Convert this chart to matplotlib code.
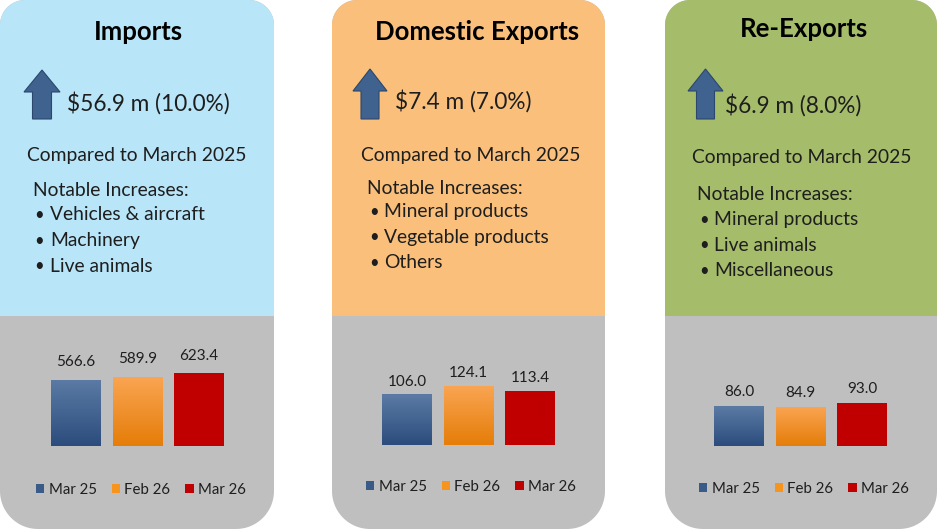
import numpy as np
import matplotlib
matplotlib.use("Agg")
import matplotlib.pyplot as plt
from matplotlib.patches import Polygon, Rectangle, Patch
from matplotlib.colors import LinearSegmentedColormap

plt.rcParams['font.family'] = ['Lato', 'DejaVu Sans']

# data
periods = ["Mar 25", "Feb 26", "Mar 26"]
titles = ["Imports", "Domestic Exports", "Re-Exports"]
changes = ["$56.9 m (10.0%)", "$7.4 m (7.0%)", "$6.9 m (8.0%)"]
compared = "Compared to March 2025"
imports_vals = [566.6, 589.9, 623.4]
dom_exports_vals = [106.0, 124.1, 113.4]
re_exports_vals = [86.0, 84.9, 93.0]
imports_notes = ["Vehicles & aircraft", "Machinery", "Live animals"]
dom_exports_notes = ["Mineral products", "Vegetable products", "Others"]
re_exports_notes = ["Mineral products", "Live animals", "Miscellaneous"]

values = [imports_vals, dom_exports_vals, re_exports_vals]
notes = [imports_notes, dom_exports_notes, re_exports_notes]

# layout (pixels, y down)
W, H = 940, 529
panel_x = [(0, 274), (332, 605), (665, 937)]
split_y = 316
panel_colors = ["#b8e5f8", "#f9bf7b", "#a5bc6a"]
gray = "#bfbfbf"
txt = "#1e1e1e"

title_pos = [(138, 32), (477, 32), (804, 29)]
change_pos = [(67, 103), (395, 101), (725, 105)]
comp_pos = [(27, 155), (361, 155), (692, 157)]
note_pos = [(33, 190), (367, 188), (697, 195)]
bullet_x = [(34, 50), (369, 384), (699, 714)]
bullet_y0 = [215, 212, 220]
line_step = 25.5
# arrow: center x, tip y, head half width, head base y, shaft half width, bottom y
arrows = [(42, 70, 18, 92, 9.5, 119), (370, 69, 17, 91, 9, 119), (705.5, 69, 17.5, 91, 9, 119)]

# bar axes: center of first bar, baseline y, axis top value, axis height px
bar_ax = [(76, 446, 700, 82), (407, 445, 140, 67), (739, 446, 100, 46)]
bar_step = 61.5
label_pad = [7.5, 4, 5]
legend_pos = [(141, 490), (471, 487), (804, 489)]

bar_grad = [("#2c4c7d", "#5b7ba5"), ("#e57d08", "#faa553"), ("#c00000", "#c00000")]
legend_cols = ["#3a5a88", "#f7941d", "#c00000"]


def panel_poly(x0, y0, x1, y1, rt, rb):
    pts = []
    for cx, cy, r, a0, a1 in [(x0 + rt, y0 + rt, rt, 180, 270),
                              (x1 - rt, y0 + rt, rt, 270, 360),
                              (x1 - rb, y1 - rb, rb, 0, 90),
                              (x0 + rb, y1 - rb, rb, 90, 180)]:
        a = np.radians(np.linspace(a0, a1, 20))
        pts.append(np.column_stack([cx + r * np.cos(a), cy + r * np.sin(a)]))
    return np.vstack(pts)


fig = plt.figure(figsize=(W / 100, H / 100), dpi=100)
bg = fig.add_axes([0, 0, 1, 1])
bg.set_xlim(0, W)
bg.set_ylim(H, 0)
bg.axis('off')

for i in range(3):
    x0, x1 = panel_x[i]
    verts = panel_poly(x0, 0, x1, H, 25, 38)
    bg.add_patch(Polygon(verts, closed=True, facecolor=gray, edgecolor='none'))
    top = Polygon(verts, closed=True, facecolor=panel_colors[i], edgecolor='none')
    bg.add_patch(top)
    clip = Rectangle((x0 - 2, -2), x1 - x0 + 4, split_y + 2, transform=bg.transData)
    top.set_clip_path(clip)

    bg.text(*title_pos[i], titles[i], ha='center', va='center', fontsize=18.5,
            fontweight='bold', color='black')

    cx, ty, hw, hb, sw, by = arrows[i]
    arr = [(cx, ty), (cx + hw, hb), (cx + sw, hb), (cx + sw, by),
           (cx - sw, by), (cx - sw, hb), (cx - hw, hb)]
    bg.add_patch(Polygon(arr, closed=True, facecolor="#40628f", edgecolor="#2b476e", lw=0.8))

    bg.text(*change_pos[i], changes[i], ha='left', va='center', fontsize=16.3, color=txt)
    bg.text(*comp_pos[i], compared, ha='left', va='center', fontsize=13.9, color=txt)
    bg.text(*note_pos[i], "Notable Increases:", ha='left', va='center', fontsize=13.9, color=txt)
    for j, item in enumerate(notes[i]):
        y = bullet_y0[i] + j * line_step
        bg.text(bullet_x[i][0], y, "\u2022", ha='left', va='center', fontsize=12, color=txt)
        bg.text(bullet_x[i][1], y, item, ha='left', va='center', fontsize=13.9, color=txt)

    # bar chart
    c0, base, ymax, hpx = bar_ax[i]
    left = c0 - bar_step / 2
    ax = fig.add_axes([left / W, 1 - base / H, 3 * bar_step / W, hpx / H])
    ax.set_xlim(-0.5, 2.5)
    ax.set_ylim(0, ymax)
    ax.axis('off')
    bars = ax.bar(range(3), values[i], width=50 / bar_step, color='none', edgecolor='none')
    grad = np.linspace(0, 1, 64).reshape(-1, 1)
    for b, (cb, ct) in zip(bars, bar_grad):
        bx, _ = b.get_xy()
        cmap = LinearSegmentedColormap.from_list('g', [cb, ct])
        im = ax.imshow(grad, extent=(bx, bx + b.get_width(), 0, b.get_height()),
                       origin='lower', cmap=cmap, aspect='auto', zorder=2)
        im.set_clip_path(b)
    ax.set_xlim(-0.5, 2.5)
    ax.set_ylim(0, ymax)
    ax.bar_label(bars, labels=[f"{v:.1f}" for v in values[i]], padding=label_pad[i],
                 fontsize=11, color=txt)

    handles = [Patch(facecolor=c, edgecolor='none') for c in legend_cols]
    ax.legend(handles, periods, ncol=3, loc='center', bbox_to_anchor=legend_pos[i],
              bbox_transform=bg.transData, frameon=False, fontsize=10.8,
              handlelength=0.55, handleheight=0.55, handletextpad=0.3,
              columnspacing=1.0, labelcolor=txt, borderpad=0)

fig.savefig("out.png", dpi=100)
